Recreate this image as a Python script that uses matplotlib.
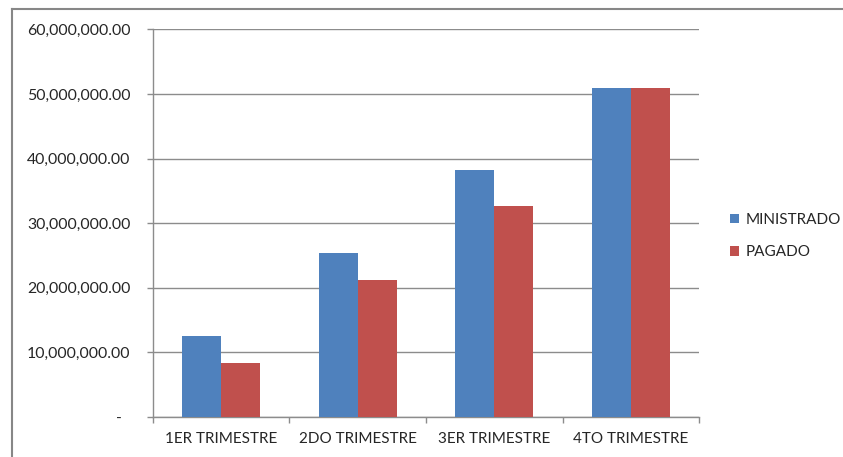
import matplotlib
matplotlib.use("Agg")
import matplotlib.pyplot as plt
from matplotlib.lines import Line2D
from matplotlib.patches import Patch
from matplotlib.ticker import FuncFormatter
import numpy as np

categories = ["1ER TRIMESTRE", "2DO TRIMESTRE", "3ER TRIMESTRE", "4TO TRIMESTRE"]
ministrado = [12_580_000, 25_430_000, 38_170_000, 50_950_000]
pagado = [8_310_000, 21_160_000, 32_600_000, 50_950_000]
series_names = ["MINISTRADO", "PAGADO"]
colors = ["#4F81BD", "#C0504D"]

plt.rcParams['font.family'] = ['Lato', 'DejaVu Sans']
txt = "#262626"
grid_c = "#8C8C8C"

fig = plt.figure(figsize=(8.43, 4.57), dpi=100)
W, H = 843, 457
ax = fig.add_axes([152.7 / W, (H - 417) / H, (699.3 - 152.7) / W, (417 - 29.3) / H])

x = np.arange(len(categories))
bw = 0.285
ax.bar(x - bw / 2, ministrado, bw, color=colors[0], zorder=3)
ax.bar(x + bw / 2, pagado, bw, color=colors[1], zorder=3)

ax.set_xlim(-0.5, len(categories) - 0.5)
ax.set_ylim(0, 60_000_000)
ax.set_yticks(np.arange(0, 60_000_001, 10_000_000))
ax.yaxis.set_major_formatter(FuncFormatter(lambda v, p: "-  " if v == 0 else f"{v:,.2f}"))
ax.grid(axis='y', color=grid_c, linewidth=1.0, zorder=0)

ax.set_xticks(x)
ax.set_xticklabels(categories)
ax.set_xticks(np.arange(-0.5, len(categories), 1.0), minor=True)
ax.tick_params(axis='x', which='major', length=0, pad=11, labelsize=11, labelcolor=txt)
ax.tick_params(axis='x', which='minor', length=4, color=grid_c, width=1)
ax.tick_params(axis='y', length=4, color=grid_c, width=1, pad=12, labelsize=11.4, labelcolor=txt)

for s in ['top', 'right']:
    ax.spines[s].set_visible(False)
for s in ['left', 'bottom']:
    ax.spines[s].set_color(grid_c)
    ax.spines[s].set_linewidth(1.0)

handles = [Patch(facecolor=c, edgecolor='none') for c in colors]
fig.legend(handles, series_names, loc='center left', bbox_to_anchor=(716 / W, 1 - 236 / H),
           frameon=False, handlelength=0.6, handleheight=0.6, handletextpad=0.45,
           labelspacing=1.2, fontsize=11, labelcolor=txt)

# chart border
fig.add_artist(Line2D([12 / W, 12 / W], [0, 1 - 8.5 / H], transform=fig.transFigure, color="#878787", lw=1.5))
fig.add_artist(Line2D([12 / W, 1], [1 - 8.5 / H, 1 - 8.5 / H], transform=fig.transFigure, color="#878787", lw=1.5))

fig.savefig("out.png", dpi=100)
